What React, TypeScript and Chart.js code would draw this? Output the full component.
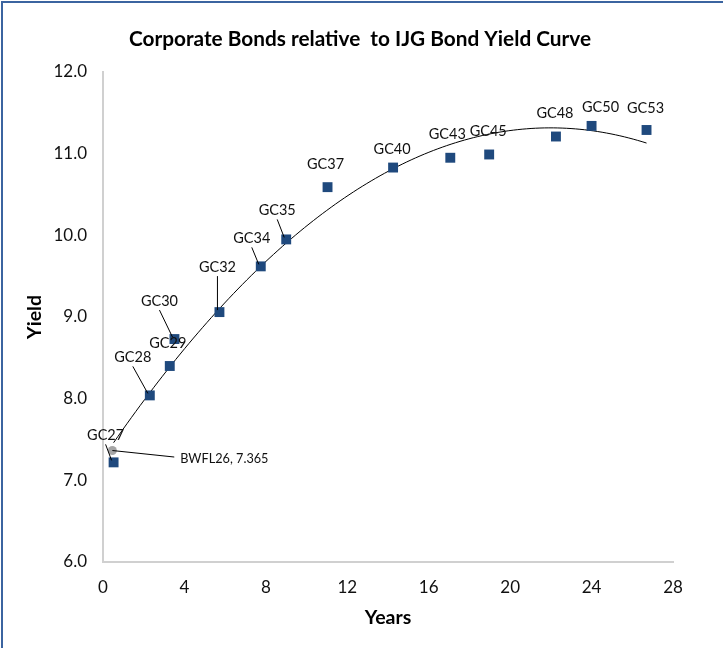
import React, { useEffect, useRef } from "react";
import { Chart, registerables } from "chart.js";

Chart.register(...registerables);

// ---- data ----
const bondNames = ["GC27", "GC28", "GC29", "GC30", "GC32", "GC34", "GC35", "GC37", "GC40", "GC43", "GC45", "GC48", "GC50", "GC53"];
const bondYears = [0.52, 2.3, 3.28, 3.51, 5.72, 7.75, 9.0, 11.03, 14.25, 17.06, 18.97, 22.25, 24.0, 26.7];
const bondYields = [7.22, 8.04, 8.4, 8.73, 9.06, 9.62, 9.95, 10.59, 10.83, 10.95, 10.99, 11.21, 11.34, 11.29];

const corpName = "BWFL26";
const corpYears = [0.46];
const corpYields = [7.365];

const xTicks = [0, 4, 8, 12, 16, 20, 24, 28];
const yTicks = [6, 7, 8, 9, 10, 11, 12];

const titleText = "Corporate Bonds relative  to IJG Bond Yield Curve";
const xTitle = "Years";
const yTitle = "Yield";

// ---- label layout (pixel offsets from the point; leader = draw connector) ----
const labelOffsets: [number, number, boolean][] = [
  [-8, -27, true],
  [-17, -38, true],
  [-2, -23, false],
  [-15, -38, true],
  [-2, -45, true],
  [-9, -28, true],
  [-9, -29, true],
  [-2, -23, false],
  [-1, -18, false],
  [-3, -23, false],
  [-1, -23, false],
  [-1, -23, false],
  [9, -19, false],
  [-1, -22, false],
];
const corpLabelOffset: [number, number] = [112, 8];

// quadratic least-squares fit (Excel polynomial trendline, order 2)
function quadFit(xs: number[], ys: number[]) {
  let s0 = 0, s1 = 0, s2 = 0, s3 = 0, s4 = 0, t0 = 0, t1 = 0, t2 = 0;
  for (let i = 0; i < xs.length; i++) {
    const x = xs[i], y = ys[i];
    s0 += 1; s1 += x; s2 += x * x; s3 += x * x * x; s4 += x * x * x * x;
    t0 += y; t1 += x * y; t2 += x * x * y;
  }
  const M = [
    [s0, s1, s2, t0],
    [s1, s2, s3, t1],
    [s2, s3, s4, t2],
  ];
  for (let c = 0; c < 3; c++) {
    let p = c;
    for (let r = c + 1; r < 3; r++) if (Math.abs(M[r][c]) > Math.abs(M[p][c])) p = r;
    [M[c], M[p]] = [M[p], M[c]];
    for (let r = 0; r < 3; r++) {
      if (r === c) continue;
      const f = M[r][c] / M[c][c];
      for (let k = c; k < 4; k++) M[r][k] -= f * M[c][k];
    }
  }
  return [M[0][3] / M[0][0], M[1][3] / M[1][1], M[2][3] / M[2][2]];
}

const FONT = "Lato, 'Open Sans', sans-serif";

export default function App() {
  const ref = useRef<HTMLCanvasElement | null>(null);

  useEffect(() => {
    if (!ref.current) return;
    const [a, b, c] = quadFit(bondYears, bondYields);
    const xmin = Math.min(...bondYears);
    const xmax = Math.max(...bondYears);
    const trend: { x: number; y: number }[] = [];
    const n = 120;
    for (let i = 0; i <= n; i++) {
      const x = xmin + ((xmax - xmin) * i) / n;
      trend.push({ x, y: a + b * x + c * x * x });
    }

    const overlay = {
      id: "overlay",
      beforeDraw(chart: any) {
        const ctx = chart.ctx;
        ctx.save();
        ctx.fillStyle = "#ffffff";
        ctx.fillRect(0, 0, chart.width, chart.height);
        ctx.restore();
      },
      afterDraw(chart: any) {
        const ctx = chart.ctx;
        const area = chart.chartArea;
        ctx.save();
        // frame (left & top)
        ctx.fillStyle = "#3b64a0";
        ctx.fillRect(1, 1, 2, chart.height);
        ctx.fillRect(1, 1, chart.width, 2);

        // title
        ctx.fillStyle = "#000000";
        ctx.textAlign = "center";
        ctx.textBaseline = "middle";
        ctx.font = `bold 20.8px ${FONT}`;
        ctx.fillText(titleText, 360, 39);
        // axis titles
        ctx.font = `bold 19.5px ${FONT}`;
        ctx.fillText(xTitle, (area.left + area.right) / 2, 618);
        ctx.save();
        ctx.translate(34.5, (area.top + area.bottom) / 2);
        ctx.rotate(-Math.PI / 2);
        ctx.fillText(yTitle, 0, 0);
        ctx.restore();

        // data labels
        const meta = chart.getDatasetMeta(1);
        ctx.font = `14.5px ${FONT}`;
        ctx.fillStyle = "#111111";
        ctx.strokeStyle = "#000000";
        ctx.lineWidth = 1;
        meta.data.forEach((pt: any, i: number) => {
          const [dx, dy, leader] = labelOffsets[i];
          const lx = pt.x + dx;
          const ly = pt.y + dy;
          if (leader) {
            ctx.beginPath();
            ctx.moveTo(lx, ly + 9);
            ctx.lineTo(pt.x - 2, pt.y - 2);
            ctx.stroke();
          }
          ctx.fillText(bondNames[i], lx, ly);
        });

        const cm = chart.getDatasetMeta(2);
        ctx.font = `12.7px ${FONT}`;
        cm.data.forEach((pt: any, i: number) => {
          const lx = pt.x + corpLabelOffset[0];
          const ly = pt.y + corpLabelOffset[1];
          const txt = `${corpName}, ${corpYields[i]}`;
          const w = ctx.measureText(txt).width;
          ctx.beginPath();
          ctx.moveTo(pt.x, pt.y);
          ctx.lineTo(lx - w / 2 - 6, ly - 1.5);
          ctx.stroke();
          ctx.fillText(txt, lx, ly);
        });
        ctx.restore();
      },
    };

    const chart = new Chart(ref.current, {
      type: "scatter",
      data: {
        datasets: [
          {
            type: "line",
            data: trend,
            borderColor: "#000000",
            borderWidth: 1,
            pointRadius: 0,
            fill: false,
            tension: 0,
            order: 3,
          } as any,
          {
            data: bondYears.map((x, i) => ({ x, y: bondYields[i] })),
            pointStyle: "rect",
            pointRadius: 7,
            backgroundColor: "#1f497d",
            borderColor: "#1f497d",
            borderWidth: 0,
            order: 1,
          },
          {
            data: corpYears.map((x, i) => ({ x, y: corpYields[i] })),
            pointStyle: "circle",
            pointRadius: 4.5,
            backgroundColor: "#a6a6a6",
            borderColor: "#a6a6a6",
            borderWidth: 0,
            order: 2,
          },
        ],
      },
      options: {
        responsive: false,
        animation: false,
        devicePixelRatio: 1,
        layout: { padding: { top: 72, right: 50, left: 0, bottom: 0 } },
        plugins: {
          legend: { display: false },
          title: { display: false },
          tooltip: { enabled: false },
        },
        scales: {
          x: {
            type: "linear",
            min: xTicks[0],
            max: xTicks[xTicks.length - 1],
            afterFit: (s: any) => {
              s.height = 86;
            },
            afterBuildTicks: (s: any) => {
              s.ticks = xTicks.map((v) => ({ value: v }));
            },
            grid: { display: false, drawTicks: false },
            border: { display: true, color: "#d0d0d0", width: 2 },
            ticks: {
              color: "#111111",
              font: { family: FONT, size: 17 },
              padding: 15,
              maxRotation: 0,
              callback: (v: any) => String(v),
            },
          },
          y: {
            type: "linear",
            min: yTicks[0],
            max: yTicks[yTicks.length - 1],
            afterFit: (s: any) => {
              s.width = 103;
            },
            afterBuildTicks: (s: any) => {
              s.ticks = yTicks.map((v) => ({ value: v }));
            },
            grid: { display: false, drawTicks: false },
            border: { display: true, color: "#d0d0d0", width: 2 },
            ticks: {
              color: "#111111",
              font: { family: FONT, size: 17 },
              padding: 16,
              callback: (v: any) => Number(v).toFixed(1),
            },
          },
        },
      },
      plugins: [overlay],
    });
    return () => chart.destroy();
  }, []);

  return (
    <div style={{ position: "absolute", left: 0, top: 0, width: 723, height: 648, background: "#fff" }}>
      <canvas ref={ref} width={723} height={648} style={{ display: "block", width: 723, height: 648 }} />
    </div>
  );
}
